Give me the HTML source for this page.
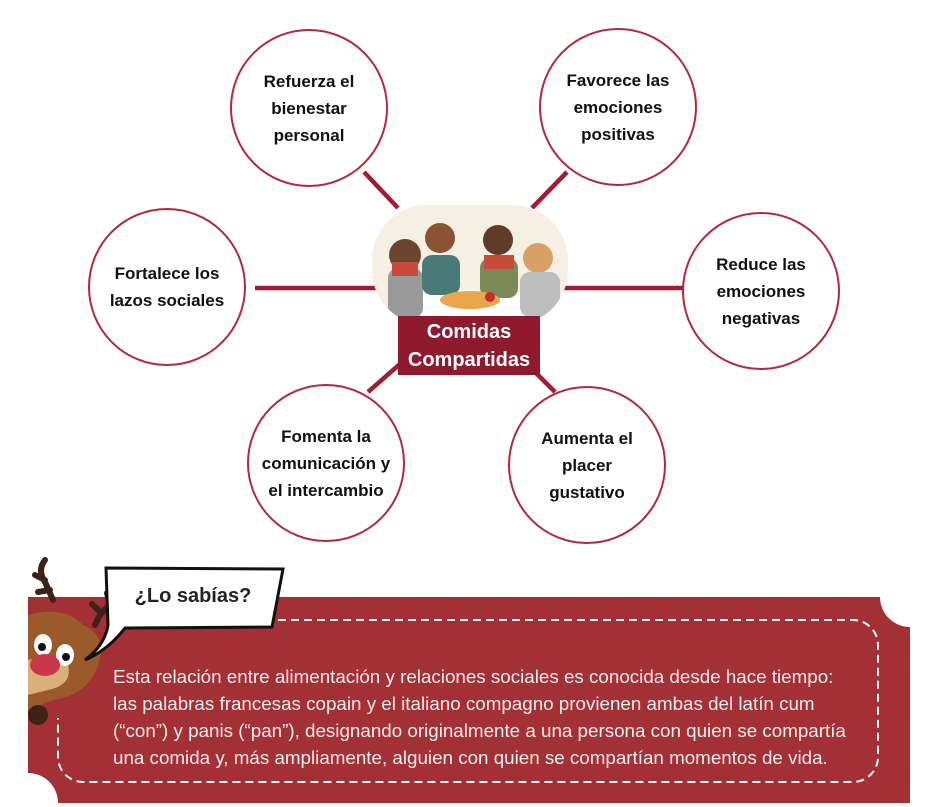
<!DOCTYPE html>
<html><head><meta charset="utf-8"><style>
html,body{margin:0;padding:0;background:#fff;}
body{width:930px;height:807px;position:relative;overflow:hidden;font-family:"Liberation Sans",sans-serif;}
.c{position:absolute;width:154px;height:154px;border:2.5px solid #b02a3e;border-radius:50%;background:#fff;display:flex;align-items:center;justify-content:center;text-align:center;font-weight:bold;font-size:17px;line-height:27px;color:#111;box-sizing:content-box;}
.t{position:absolute;left:113px;top:663px;color:#fbeeee;font-size:18.8px;line-height:27px;white-space:nowrap;}
</style></head><body>
<svg width="930" height="807" style="position:absolute;left:0;top:0">
<g stroke="#a11d33" stroke-width="4.5">
<line x1="255" y1="288" x2="380" y2="288"/>
<line x1="560" y1="288" x2="684" y2="288"/>
<line x1="364" y1="172" x2="398" y2="208"/>
<line x1="532" y1="208" x2="567" y2="172"/>
<line x1="368" y1="392" x2="400" y2="364"/>
<line x1="535" y1="372" x2="555" y2="392"/>
</g>
<defs><clipPath id="cp"><rect x="372" y="205" width="196" height="120" rx="55"/></clipPath></defs>
<g clip-path="url(#cp)">
<rect x="372" y="205" width="196" height="120" fill="#f6efe4"/>
<ellipse cx="470" cy="315" rx="80" ry="25" fill="#fff"/>
<circle cx="405" cy="255" r="16" fill="#6b4430"/><rect x="388" y="268" width="35" height="50" rx="10" fill="#9a9a9a"/><rect x="392" y="262" width="26" height="14" fill="#c94a3a"/>
<circle cx="440" cy="238" r="15" fill="#8a5232"/><rect x="422" y="255" width="38" height="40" rx="10" fill="#4a7a78"/>
<circle cx="498" cy="240" r="15" fill="#5e3c28"/><rect x="480" y="258" width="38" height="40" rx="10" fill="#7c8a5a"/><rect x="484" y="255" width="30" height="14" fill="#c94a3a"/>
<circle cx="538" cy="258" r="15" fill="#d9a06a"/><rect x="520" y="272" width="40" height="45" rx="10" fill="#bdbdbd"/>
<ellipse cx="470" cy="300" rx="30" ry="9" fill="#e9a64c"/><circle cx="490" cy="297" r="5" fill="#c82a2a"/>
</g>
<rect x="398" y="316" width="142" height="59" fill="#8f1a2e"/>
<text x="469" y="338" fill="#fff" font-family="Liberation Sans,sans-serif" font-weight="bold" font-size="20" text-anchor="middle">Comidas</text>
<text x="469" y="366" fill="#fff" font-family="Liberation Sans,sans-serif" font-weight="bold" font-size="20" text-anchor="middle">Compartidas</text>
<path d="M28 597 H880 A30 30 0 0 0 910 627 V803 H58 A30 30 0 0 0 28 773 Z" fill="#a33035"/>
<rect x="58" y="620" width="820" height="162" rx="25" fill="none" stroke="#fff" stroke-width="2" stroke-dasharray="8 5"/>
<rect x="54" y="615" width="60" height="103" fill="#a33035"/>
<!-- reindeer -->
<g>
<path d="M45 560 q-8 10 0 22 l8 18 M45 580 l-10 -5 M50 590 l-12 2" stroke="#3d2218" stroke-width="6" fill="none" stroke-linecap="round"/>
<path d="M125 605 q-20 -5 -30 20 M110 605 l-3 -12 M100 612 l-8 -8" stroke="#3d2218" stroke-width="6" fill="none" stroke-linecap="round"/>
<path d="M28 615 q35 -10 55 10 q25 10 15 40 q-10 30 -45 35 l-25 10 Z" fill="#9a5a2a"/>
<path d="M28 660 q20 -5 40 5 q5 20 -20 25 l-20 5 Z" fill="#d9b07c"/>
<ellipse cx="43" cy="645" rx="9" ry="11" fill="#fff"/><circle cx="42" cy="647" r="4" fill="#111"/>
<ellipse cx="65" cy="655" rx="9" ry="11" fill="#fff"/><circle cx="66" cy="657" r="4" fill="#111"/>
<ellipse cx="45" cy="665" rx="15" ry="11" fill="#c9374a"/>
<ellipse cx="38" cy="715" rx="10" ry="10" fill="#3d2218"/>
</g>
<path d="M106 568 L283 569 L272 627 L125 628 Q108 650 85 660 Q105 645 108 625 Z" fill="#fff" stroke="#111" stroke-width="3"/>
<text x="193" y="602" text-anchor="middle" font-family="Liberation Sans,sans-serif" font-weight="bold" font-size="20" fill="#222">¿Lo sabías?</text>
</svg>
<div class="c" style="left:230px;top:29px">Refuerza el<br>bienestar<br>personal</div>
<div class="c" style="left:539px;top:28px">Favorece las<br>emociones<br>positivas</div>
<div class="c" style="left:88px;top:208px">Fortalece los<br>lazos sociales</div>
<div class="c" style="left:682px;top:212px">Reduce las<br>emociones<br>negativas</div>
<div class="c" style="left:247px;top:384px">Fomenta la<br>comunicación y<br>el intercambio</div>
<div class="c" style="left:508px;top:386px">Aumenta el<br>placer<br>gustativo</div>
<div class="t">Esta relación entre alimentación y relaciones sociales es conocida desde hace tiempo:<br>las palabras francesas copain y el italiano compagno provienen ambas del latín cum<br>(“con”) y panis (“pan”), designando originalmente a una persona con quien se compartía<br>una comida y, más ampliamente, alguien con quien se compartían momentos de vida.</div>
</body></html>
